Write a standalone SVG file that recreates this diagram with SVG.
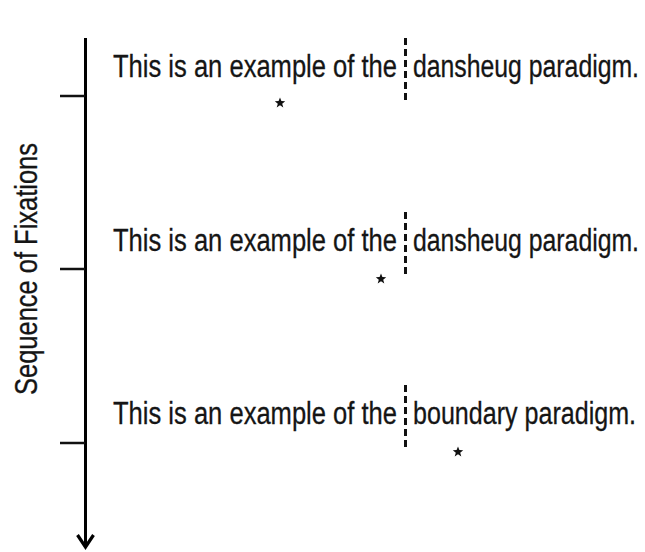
<svg xmlns="http://www.w3.org/2000/svg" width="645" height="552" viewBox="0 0 645 552">
<style>
.t{font-family:"Liberation Sans Narrow","Liberation Sans",Arial,sans-serif;font-size:31px;fill:#151515;stroke:#151515;stroke-width:0.3}
.axis{stroke:#000;stroke-width:3;fill:none}
.head{stroke:#000;stroke-width:3.2;fill:none;stroke-linejoin:miter}
.tick{stroke:#111;stroke-width:2.5}
.dash{stroke:#111;stroke-width:3;stroke-dasharray:7 4}
.star{fill:#111}
</style>
<defs>
<polygon id="st" points="0,-5.5 1.4,-1.9 5.2,-1.7 2.2,0.7 3.3,4.4 0,2.3 -3.3,4.4 -2.2,0.7 -5.2,-1.7 -1.4,-1.9"/>
</defs>
<g id="connectors">
<line class="axis" x1="85.5" y1="38" x2="85.5" y2="546"/>
<path class="head" d="M77.5,535 L85.5,547 L93.5,535"/>
<line class="tick" x1="60" y1="96" x2="85" y2="96"/>
<line class="tick" x1="60" y1="269" x2="85" y2="269"/>
<line class="tick" x1="60" y1="443" x2="85" y2="443"/>
</g>
<g id="axis-label">
<text class="t" transform="translate(37,269) rotate(-90)" text-anchor="middle" textLength="252" lengthAdjust="spacingAndGlyphs">Sequence of Fixations</text>
</g>
<g id="row1">
<text class="t" x="113" y="77" textLength="284" lengthAdjust="spacingAndGlyphs">This is an example of the</text>
<line class="dash" x1="405.5" y1="38" x2="405.5" y2="103"/>
<text class="t" x="413" y="77" textLength="226" lengthAdjust="spacingAndGlyphs">dansheug paradigm.</text>
<use href="#st" class="star" x="280" y="103"/>
</g>
<g id="row2">
<text class="t" x="113" y="251" textLength="284" lengthAdjust="spacingAndGlyphs">This is an example of the</text>
<line class="dash" x1="405.5" y1="212" x2="405.5" y2="278"/>
<text class="t" x="413" y="251" textLength="226" lengthAdjust="spacingAndGlyphs">dansheug paradigm.</text>
<use href="#st" class="star" x="381" y="279"/>
</g>
<g id="row3">
<text class="t" x="113" y="424" textLength="284" lengthAdjust="spacingAndGlyphs">This is an example of the</text>
<line class="dash" x1="405.5" y1="385" x2="405.5" y2="451"/>
<text class="t" x="413" y="424" textLength="223" lengthAdjust="spacingAndGlyphs">boundary paradigm.</text>
<use href="#st" class="star" x="458" y="452"/>
</g>
</svg>
